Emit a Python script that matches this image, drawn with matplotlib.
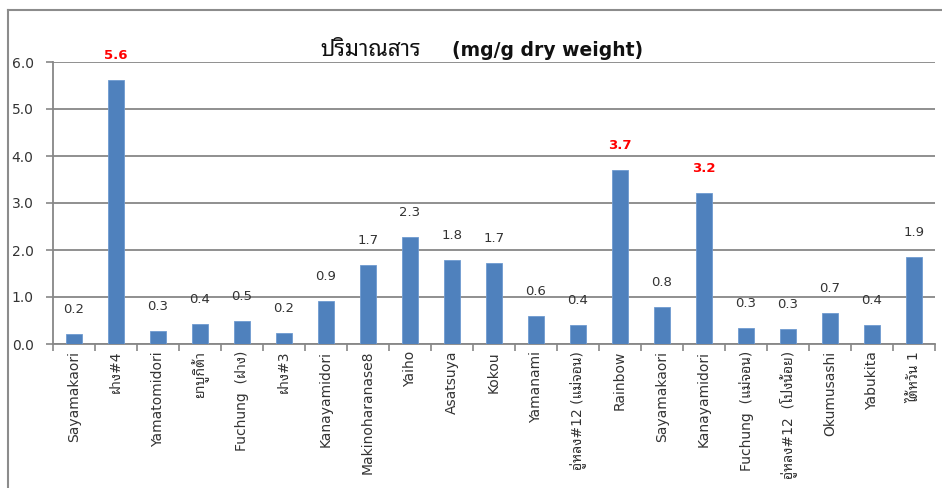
import matplotlib
matplotlib.use("Agg")
import matplotlib.pyplot as plt
from matplotlib.lines import Line2D

plt.rcParams["font.family"] = ["DejaVu Sans", "Noto Sans Thai Looped", "Loma"]

varieties = [
    "Sayamakaori", "ฝาง#4", "Yamatomidori", "ยาบูกิต้า", "Fuchung  (ฝาง)",
    "ฝาง#3", "Kanayamidori", "Makinoharanase8", "Yaiho", "Asatsuya", "Kokou",
    "Yamanami", "อู่หลง#12 (แม่จอน)", "Rainbow", "Sayamakaori", "Kanayamidori",
    "Fuchung  (แม่จอน)", "อู่หลง#12  (โป่งน้อย)", "Okumusashi", "Yabukita",
    "ไต้หวัน 1",
]
content = [
    0.21, 5.62, 0.28, 0.43, 0.49, 0.23, 0.91, 1.68, 2.28, 1.79, 1.72,
    0.60, 0.40, 3.70, 0.79, 3.21, 0.34, 0.32, 0.66, 0.40, 1.85,
]
highlight = [1, 13, 15]
y_ticks = [0.0, 1.0, 2.0, 3.0, 4.0, 5.0, 6.0]
title_th = "ปริมาณสาร"
title_unit = "(mg/g dry weight)"

W, H = 942, 488
fig = plt.figure(figsize=(W / 100, H / 100), dpi=100)
ax = fig.add_axes([53 / W, 1 - 344 / H, (935 - 53) / W, (344 - 62) / H])

grid_c = "#878787"
x = list(range(len(varieties)))
ax.bar(x, content, width=0.4, color="#4F81BD", edgecolor="#6f9ad0",
       linewidth=0.6, zorder=3)

ax.set_xlim(-0.5, len(varieties) - 0.5)
ax.set_ylim(0, 6.0)
ax.set_yticks(y_ticks)
ax.set_yticklabels([f"{v:.1f}" for v in y_ticks], fontsize=10, color="#333333")
ax.yaxis.grid(True, color=grid_c, linewidth=1.3, zorder=0)
ax.tick_params(axis="y", length=5, width=1.2, color=grid_c, pad=9)

ax.set_xticks(x)
ax.set_xticklabels(varieties, rotation=90, fontsize=10, color="#333333",
                   va="top", ha="center")
ax.set_xticks([i - 0.5 for i in range(len(varieties) + 1)], minor=True)
ax.tick_params(axis="x", which="major", length=0, pad=5)
ax.tick_params(axis="x", which="minor", length=5, width=1.2, color=grid_c)

for s in ("top", "right"):
    ax.spines[s].set_visible(False)
for s in ("left", "bottom"):
    ax.spines[s].set_color(grid_c)
    ax.spines[s].set_linewidth(1.3)

for i, v in enumerate(content):
    hot = i in highlight
    ax.annotate(f"{v:.1f}", (i, v), xytext=(0, 17.5), textcoords="offset points",
                ha="center", va="center", fontsize=9.5,
                color="#FF0000" if hot else "#333333",
                fontweight="bold" if hot else "normal")

# two-part title: Thai heading and the unit in brackets
fig.text(421 / W, 1 - 50 / H, title_th, ha="right", va="center",
         fontsize=16, fontweight="bold", color="#111111",
         family=["Noto Sans Thai Looped", "Loma", "DejaVu Sans"])
fig.text(452 / W, 1 - 50 / H, title_unit, ha="left", va="center",
         fontsize=13.5, fontweight="bold", color="#111111")

# chart-area frame
frame_c = "#8c8c8c"
fig.add_artist(Line2D([8 / W, 1.0], [1 - 10 / H, 1 - 10 / H],
                      transform=fig.transFigure, color=frame_c, linewidth=1.5))
fig.add_artist(Line2D([8 / W, 8 / W], [1 - 10 / H, 0.0],
                      transform=fig.transFigure, color=frame_c, linewidth=1.5))

fig.savefig("out.png", dpi=100)
